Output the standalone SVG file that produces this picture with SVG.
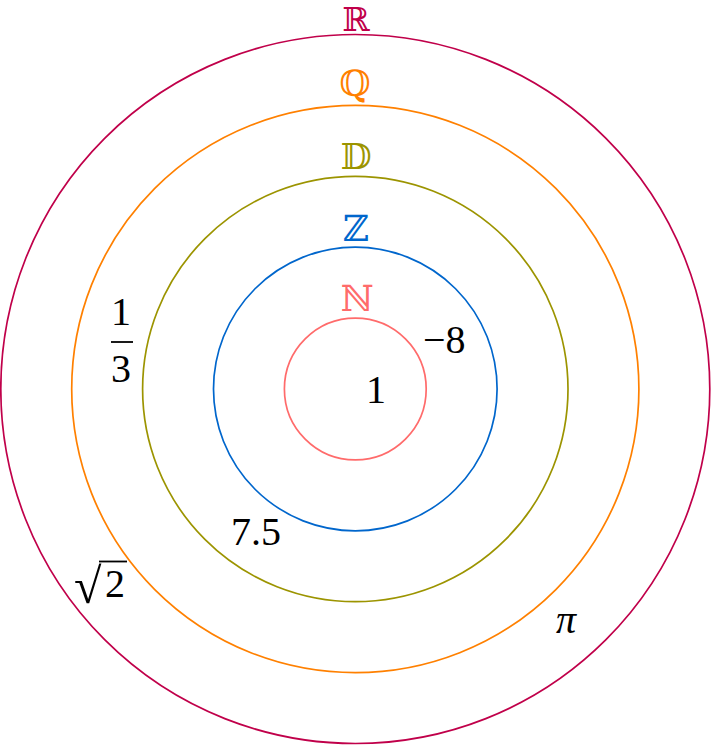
<svg xmlns="http://www.w3.org/2000/svg" width="711" height="746" viewBox="0 0 711 746">
<style>
  .ring { fill: none; stroke-width: 1.7; }
  .lbl { font-family: "DejaVu Serif", "DejaVu Sans", serif; font-size: 36px; text-anchor: middle; }
  .num { font-family: "Liberation Serif", serif; font-size: 40px; fill: #000; }
  .bar { stroke: #000; stroke-width: 1.8; }
</style>
<rect width="711" height="746" fill="#fff"/>
<g id="R">
  <circle class="ring" cx="355.3" cy="389" r="354.5" stroke="#C0004A"/>
  <text class="lbl" x="356" y="30.5" fill="#C0004A" style="font-size:33px">ℝ</text>
</g>
<g id="Q">
  <circle class="ring" cx="355.3" cy="389" r="283.6" stroke="#FF8000"/>
  <text class="lbl" x="355" y="96" fill="#FF8000">ℚ</text>
</g>
<g id="D">
  <circle class="ring" cx="355.3" cy="389" r="212.7" stroke="#9C9400"/>
  <text class="lbl" x="356" y="169" fill="#9C9400">𝔻</text>
</g>
<g id="Z">
  <circle class="ring" cx="355.3" cy="389" r="141.8" stroke="#0066CC"/>
  <text class="lbl" x="356" y="241" fill="#0066CC">ℤ</text>
</g>
<g id="N">
  <circle class="ring" cx="355.3" cy="389" r="70.9" stroke="#FF6B6B"/>
  <text class="lbl" x="357" y="311" fill="#FF6B6B">ℕ</text>
</g>
<g id="connectors"/>
<g id="num-1"><text class="num" x="366" y="403">1</text></g>
<g id="num-minus8"><text class="num" x="423" y="353">−8</text></g>
<g id="num-third">
  <text class="num" x="111" y="325">1</text>
  <line class="bar" x1="111" y1="342" x2="133" y2="342"/>
  <text class="num" x="111" y="382">3</text>
</g>
<g id="num-7_5"><text class="num" x="231" y="545">7.5</text></g>
<g id="num-sqrt2">
  <text class="num" x="74" y="603" style="font-size:50px">√</text>
  <line class="bar" x1="99" y1="561.5" x2="127" y2="561.5"/>
  <text class="num" x="105" y="597">2</text>
</g>
<g id="num-pi"><text class="num" x="556" y="633" font-style="italic">π</text></g>
</svg>
